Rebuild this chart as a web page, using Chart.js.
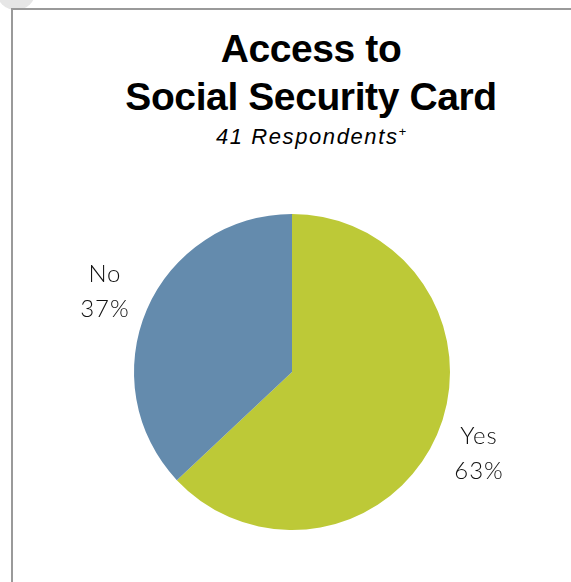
<!DOCTYPE html>
<html>
<head>
<meta charset="utf-8">
<script src="https://cdn.jsdelivr.net/npm/chart.js@4"></script>
<style>
  html, body { margin: 0; padding: 0; background: #fff; }
  body { width: 571px; height: 582px; position: relative; overflow: hidden; }
  .corner { position: absolute; left: -4px; top: -30px; width: 40px; height: 40px; border-radius: 50%; background: #e6e6e6; }
  .frame { position: absolute; left: 11px; top: 8px; width: 700px; height: 700px; border-left: 2px solid #9a9a9a; border-top: 2px solid #9a9a9a; background: #fff; }
  .title { position: absolute; left: 11px; width: 600px; text-align: center; color: #000; font-family: "Liberation Sans", Arial, sans-serif; white-space: nowrap; }
  .t1 { top: 25px; font-size: 39px; font-weight: bold; line-height: 48px; letter-spacing: -0.4px; }
  .t2 { top: 118px; font-size: 22px; font-style: italic; letter-spacing: 1.6px; line-height: 28px; }
  .t2 sup { font-size: 13px; letter-spacing: 0; }
  #chart { position: absolute; left: 0; top: 0; }
</style>
</head>
<body>
<div class="corner"></div>
<div class="frame"></div>
<div class="title t1">Access to<br>Social Security Card</div>
<div class="title t2">41 Respondents<sup>+</sup></div>
<canvas id="chart" width="571" height="582"></canvas>
<script>
let categories = ['Yes', 'No'];
let shares = [63, 37];
let colors = ['#bdc937', '#648bad'];

// category name and percent outside each slice
let outsideLabels = {
    id: 'outsideLabels',
    afterDatasetsDraw(chart) {
        let ctx = chart.ctx;
        let meta = chart.getDatasetMeta(0);
        ctx.save();
        ctx.fillStyle = '#111';
        ctx.font = '300 24px Lato, "DejaVu Sans", sans-serif';
        ctx.letterSpacing = '1px';
        ctx.textAlign = 'center';
        ctx.textBaseline = 'middle';
        meta.data.forEach((arc, i) => {
            let p = arc.getProps(['x', 'y', 'startAngle', 'endAngle', 'outerRadius'], true);
            let mid = (p.startAngle + p.endAngle) / 2;
            let r = p.outerRadius * 1.29;
            let x = p.x + Math.cos(mid) * r;
            let y = p.y + Math.sin(mid) * r;
            ctx.fillText(categories[i], x, y - 17);
            ctx.fillText(shares[i] + '%', x, y + 18);
        });
        ctx.restore();
    }
};

let ctx = document.getElementById('chart').getContext('2d');
new Chart(ctx, {
    type: 'pie',
    data: {
        labels: categories,
        datasets: [{
            data: shares,
            backgroundColor: colors,
            borderWidth: 0
        }]
    },
    options: {
        responsive: false,
        animation: false,
        layout: {
            padding: { left: 134, right: 121, top: 213, bottom: 51 }
        },
        plugins: {
            legend: { display: false },
            tooltip: { enabled: false }
        }
    },
    plugins: [outsideLabels]
});
</script>
</body>
</html>
